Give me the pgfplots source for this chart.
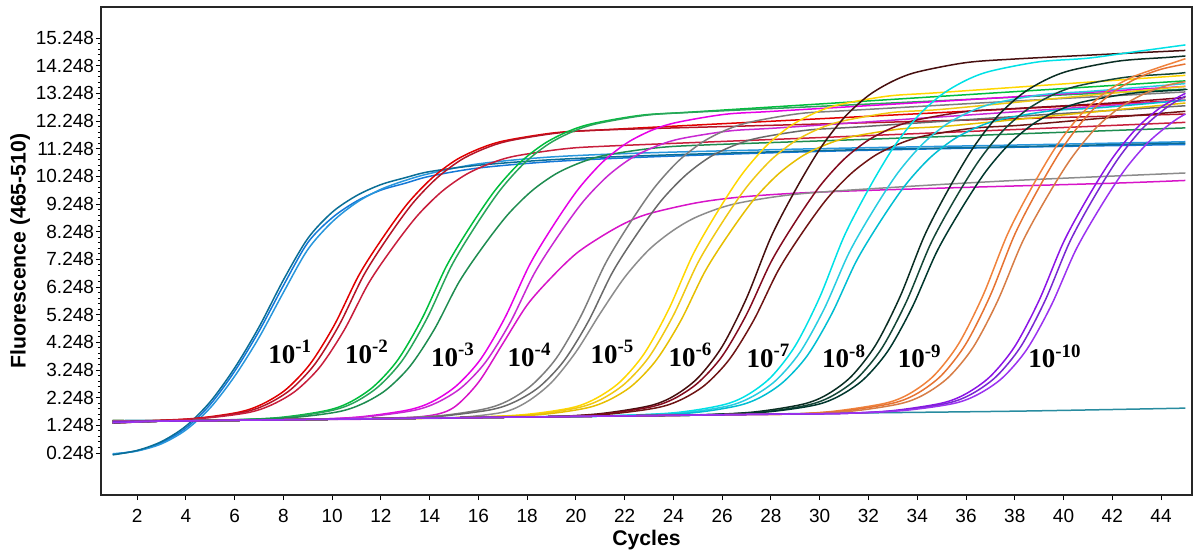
\documentclass[border=0pt]{standalone}
\usepackage{pgfplots}
\pgfplotsset{compat=1.18}
\usepackage{fontspec}
\setmainfont{Liberation Sans}
\newfontfamily\tnr{Liberation Serif}
\definecolor{cb1}{RGB}{20,120,215}
\definecolor{cb2}{RGB}{40,150,220}
\definecolor{cb3}{RGB}{10,110,150}
\definecolor{cr1}{RGB}{225,0,0}
\definecolor{cr2}{RGB}{180,20,40}
\definecolor{cr3}{RGB}{200,30,60}
\definecolor{cg1}{RGB}{0,190,60}
\definecolor{cg2}{RGB}{40,165,90}
\definecolor{cg3}{RGB}{30,140,80}
\definecolor{cm1}{RGB}{230,0,230}
\definecolor{cm2}{RGB}{200,40,210}
\definecolor{cm3}{RGB}{215,20,200}
\definecolor{cgr1}{RGB}{125,125,125}
\definecolor{cgr2}{RGB}{105,105,105}
\definecolor{cgr3}{RGB}{140,140,140}
\definecolor{cy1}{RGB}{255,215,0}
\definecolor{cy2}{RGB}{240,200,20}
\definecolor{cy3}{RGB}{230,190,0}
\definecolor{cma1}{RGB}{70,15,15}
\definecolor{cma2}{RGB}{130,10,30}
\definecolor{cma3}{RGB}{110,20,20}
\definecolor{cc1}{RGB}{0,225,230}
\definecolor{cc2}{RGB}{40,205,225}
\definecolor{cc3}{RGB}{0,190,210}
\definecolor{cd1}{RGB}{10,45,35}
\definecolor{cd2}{RGB}{20,70,55}
\definecolor{cd3}{RGB}{0,55,45}
\definecolor{co1}{RGB}{240,130,60}
\definecolor{co2}{RGB}{230,115,50}
\definecolor{co3}{RGB}{215,125,70}
\definecolor{cp1}{RGB}{140,20,230}
\definecolor{cp2}{RGB}{120,40,210}
\definecolor{cp3}{RGB}{155,50,240}
\definecolor{cneg}{RGB}{40,140,160}
\begin{document}
\begin{tikzpicture}
\useasboundingbox (-50.5bp,-31bp) rectangle (548.5bp,247.5bp);
\begin{axis}[
  at={(0,0)}, anchor=south west,
  scale only axis, width=545.5bp, height=244bp,
  xmin=0.52, xmax=45.27, ymin=-1.27, ymax=16.37,
  xtick={2,4,...,44},
  xticklabels={2,4,6,8,10,12,14,16,18,20,22,24,26,28,30,32,34,36,38,40,42,44},
  ytick={0.248,1.248,2.248,3.248,4.248,5.248,6.248,7.248,8.248,9.248,10.248,11.248,12.248,13.248,14.248,15.248},
  yticklabels={0.248,1.248,2.248,3.248,4.248,5.248,6.248,7.248,8.248,9.248,10.248,11.248,12.248,13.248,14.248,15.248},
  minor y tick num=4,
  tick align=outside, xtick pos=bottom, ytick pos=left,
  major tick length=2.5bp, minor tick length=1.5bp,
  tick style={black, line width=0.5bp},
  axis line style={line width=1bp, black!85},
  /pgf/number format/assume math mode=true,
  ticklabel style={font=\fontsize{9.5bp}{11bp}\selectfont},
  yticklabel style={xshift=2.5bp},
  xticklabel style={yshift=-1bp},
  xlabel={Cycles}, ylabel={Fluorescence (465-510)},
  label style={font=\fontsize{10.6bp}{12bp}\selectfont\bfseries},
  xlabel style={at={(axis description cs:0.5,-0.092)}, anchor=center},
  ylabel style={at={(axis description cs:-0.074,0.5)}, anchor=center},
  every axis plot/.append style={line width=0.75bp, smooth},
  clip=true,
]
% negative control
\addplot[cneg] coordinates {(1,1.42)(10,1.48)(20,1.58)(30,1.68)(38,1.76)(45,1.87)};
% blue
\addplot[cb1] coordinates {(1,0.20)(2,0.33)(3,0.62)(4,1.15)(5,2.0)(6,3.2)(7,4.65)(8,6.3)(9,7.85)(10,8.75)(11,9.35)(12,9.75)(13,10.0)(14,10.25)(16,10.55)(19,10.78)(23,10.95)(30,11.15)(38,11.3)(45,11.4)};
\addplot[cb2] coordinates {(1,0.22)(2,0.32)(3,0.58)(4,1.08)(5,1.88)(6,3.02)(7,4.42)(8,6.05)(9,7.6)(10,8.6)(11,9.3)(12,9.78)(13,10.1)(14,10.35)(16,10.7)(19,10.95)(23,11.1)(30,11.25)(38,11.38)(45,11.5)};
\addplot[cb3] coordinates {(1,0.18)(2,0.34)(3,0.66)(4,1.22)(5,2.1)(6,3.32)(7,4.8)(8,6.5)(9,8.0)(10,8.95)(11,9.55)(12,9.95)(13,10.2)(14,10.42)(16,10.65)(19,10.85)(23,11.0)(30,11.18)(38,11.32)(45,11.45)};
% red
\addplot[cr1] coordinates {(1,1.38)(4.1,1.48)(6.1,1.71)(7.1,2.00)(8.1,2.54)(9.1,3.47)(10.1,4.89)(11.1,6.68)(12.1,8.06)(13.1,9.27)(14.1,10.19)(15.1,10.85)(16.1,11.27)(17.1,11.54)(19.1,11.82)(21.1,11.93)(28,12.24)(36,12.60)(45,13.0)};
\addplot[cr2] coordinates {(1,1.36)(4.3,1.48)(6.3,1.71)(7.3,2.00)(8.3,2.54)(9.3,3.47)(10.3,4.89)(11.3,6.68)(12.3,8.06)(13.3,9.27)(14.3,10.19)(15.3,10.85)(16.3,11.27)(17.3,11.54)(19.3,11.82)(21.3,11.93)(30,12.14)(38,12.33)(45,12.5)};
\addplot[cr3] coordinates {(1,1.33)(4.5,1.49)(6.5,1.70)(7.5,1.98)(8.5,2.49)(9.5,3.36)(10.5,4.70)(11.5,6.39)(12.5,7.69)(13.5,8.83)(14.5,9.70)(15.5,10.32)(16.5,10.72)(17.5,10.98)(19.5,11.24)(21.5,11.35)(30,11.65)(38,11.94)(45,12.2)};
% green
\addplot[cg1] coordinates {(1,1.40)(3,1.40)(5,1.42)(7.7,1.52)(9.7,1.77)(10.7,2.07)(11.7,2.65)(12.7,3.62)(13.7,5.13)(14.7,7.02)(15.7,8.48)(16.7,9.76)(17.7,10.74)(18.7,11.43)(19.7,11.88)(20.7,12.16)(22.7,12.46)(24.7,12.57)(31,12.92)(38,13.31)(45,13.7)};
\addplot[cg2] coordinates {(1,1.35)(3,1.40)(5,1.42)(7.9,1.52)(9.9,1.77)(10.9,2.07)(11.9,2.65)(12.9,3.62)(13.9,5.13)(14.9,7.02)(15.9,8.48)(16.9,9.76)(17.9,10.74)(18.9,11.43)(19.9,11.88)(20.9,12.16)(22.9,12.46)(24.9,12.57)(31,12.82)(38,13.11)(45,13.4)};
\addplot[cg3] coordinates {(1,1.42)(3,1.40)(5,1.42)(8.2,1.52)(10.2,1.73)(11.2,2.01)(12.2,2.52)(13.2,3.39)(14.2,4.73)(15.2,6.42)(16.2,7.72)(17.2,8.86)(18.2,9.73)(19.2,10.35)(20.2,10.75)(21.2,11.01)(23.2,11.27)(25.2,11.38)(32,11.59)(38,11.78)(45,12.0)};
% magenta
\addplot[cm1] coordinates {(1,1.37)(3,1.40)(5,1.42)(7,1.44)(9,1.46)(11.1,1.55)(13.1,1.80)(14.1,2.10)(15.1,2.68)(16.1,3.65)(17.1,5.16)(18.1,7.05)(19.1,8.51)(20.1,9.79)(21.1,10.77)(22.1,11.46)(23.1,11.91)(24.1,12.19)(26.1,12.49)(28.1,12.60)(34,12.91)(40,13.23)(45,13.5)};
\addplot[cm2] coordinates {(1,1.39)(3,1.40)(5,1.42)(7,1.44)(9,1.46)(11.3,1.55)(13.3,1.78)(14.3,2.07)(15.3,2.61)(16.3,3.54)(17.3,4.96)(18.3,6.75)(19.3,8.13)(20.3,9.34)(21.3,10.26)(22.3,10.92)(23.3,11.34)(24.3,11.61)(26.3,11.89)(28.3,12.00)(34,12.34)(40,12.70)(45,13.0)};
\addplot[cm3] coordinates {(1,1.36)(3,1.40)(5,1.42)(7,1.44)(9,1.46)(12,1.48)(14,1.6)(15,1.9)(16,2.8)(17,4.2)(18,5.6)(19,6.6)(20,7.45)(21,8.05)(22,8.55)(23,8.9)(25,9.3)(27,9.52)(30,9.68)(36,9.85)(42,10.0)(45,10.1)};
% gray
\addplot[cgr1] coordinates {(1,1.34)(3,1.40)(5,1.42)(7,1.44)(9,1.46)(11,1.48)(14.2,1.58)(16.2,1.83)(17.2,2.13)(18.2,2.71)(19.2,3.68)(20.2,5.19)(21.2,7.08)(22.2,8.54)(23.2,9.82)(24.2,10.80)(25.2,11.49)(26.2,11.94)(27.2,12.22)(29.2,12.52)(31.2,12.63)(38,12.97)(45,13.3)};
\addplot[cgr2] coordinates {(1,1.41)(3,1.40)(5,1.42)(7,1.44)(9,1.46)(11,1.48)(13,1.50)(14.5,1.58)(16.5,1.81)(17.5,2.10)(18.5,2.64)(19.5,3.57)(20.5,4.99)(21.5,6.78)(22.5,8.16)(23.5,9.37)(24.5,10.29)(25.5,10.95)(26.5,11.37)(27.5,11.64)(29.5,11.92)(31.5,12.03)(38,12.41)(45,12.8)};
\addplot[cgr3] coordinates {(1,1.36)(3,1.40)(5,1.42)(7,1.44)(9,1.46)(11,1.48)(13,1.50)(15,1.52)(17,1.72)(18,2.1)(19,2.8)(20,3.9)(21,5.3)(22,6.6)(23,7.6)(24,8.3)(25,8.8)(26.5,9.25)(29,9.6)(33,9.85)(38,10.1)(45,10.37)};
% yellow
\addplot[cy1] coordinates {(1,1.38)(3,1.40)(5,1.42)(7,1.44)(9,1.46)(11,1.48)(13,1.50)(15,1.52)(17.8,1.63)(19.8,1.88)(20.8,2.21)(21.8,2.81)(22.8,3.84)(23.8,5.43)(24.8,7.42)(25.8,8.96)(26.8,10.31)(27.8,11.34)(28.8,12.07)(29.8,12.54)(30.8,12.84)(32.8,13.15)(34.8,13.27)(40,13.59)(45,13.9)};
\addplot[cy2] coordinates {(1,1.35)(3,1.40)(5,1.42)(7,1.44)(9,1.46)(11,1.48)(13,1.50)(15,1.52)(18,1.62)(20,1.87)(21,2.17)(22,2.75)(23,3.72)(24,5.23)(25,7.12)(26,8.58)(27,9.86)(28,10.84)(29,11.53)(30,11.98)(31,12.26)(33,12.56)(35,12.67)(40,13.09)(45,13.5)};
\addplot[cy3] coordinates {(1,1.42)(3,1.40)(5,1.42)(7,1.44)(9,1.46)(11,1.48)(13,1.50)(15,1.52)(18.3,1.62)(20.3,1.85)(21.3,2.14)(22.3,2.68)(23.3,3.61)(24.3,5.03)(25.3,6.82)(26.3,8.20)(27.3,9.41)(28.3,10.33)(29.3,10.99)(30.3,11.41)(31.3,11.68)(33.3,11.96)(35.3,12.07)(40,12.47)(45,12.9)};
% maroon
\addplot[cma1] coordinates {(1,1.36)(3,1.40)(5,1.42)(7,1.44)(9,1.46)(11,1.48)(13,1.50)(15,1.52)(17,1.54)(19,1.56)(21,1.67)(23,1.95)(24,2.30)(25,2.96)(26,4.10)(27,5.85)(28,8.05)(29,9.75)(30,11.23)(31,12.37)(32,13.17)(33,13.69)(34,14.02)(36,14.36)(38,14.49)(41.5,14.65)(45,14.8)};
\addplot[cma2] coordinates {(1,1.40)(3,1.40)(5,1.42)(7,1.44)(9,1.46)(11,1.48)(13,1.50)(15,1.52)(17,1.54)(19,1.56)(21,1.65)(23,1.90)(24,2.20)(25,2.78)(26,3.75)(27,5.26)(28,7.15)(29,8.61)(30,9.89)(31,10.87)(32,11.56)(33,12.01)(34,12.29)(36,12.59)(38,12.70)(42,12.9)(45,13.1)};
\addplot[cma3] coordinates {(1,1.33)(3,1.40)(5,1.42)(7,1.44)(9,1.46)(11,1.48)(13,1.50)(15,1.52)(17,1.54)(19,1.56)(21.3,1.65)(23.3,1.88)(24.3,2.17)(25.3,2.71)(26.3,3.64)(27.3,5.06)(28.3,6.85)(29.3,8.23)(30.3,9.44)(31.3,10.36)(32.3,11.02)(33.3,11.44)(34.3,11.71)(36.3,11.99)(38.3,12.10)(42,12.38)(45,12.6)};
% cyan
\addplot[cc1] coordinates {(1,1.37)(3,1.40)(5,1.42)(7,1.44)(9,1.46)(11,1.48)(13,1.50)(15,1.52)(17,1.54)(19,1.56)(21,1.58)(24,1.70)(26,1.98)(27,2.33)(28,2.99)(29,4.13)(30,5.88)(31,8.08)(32,9.78)(33,11.26)(34,12.40)(35,13.20)(36,13.72)(37,14.05)(39,14.39)(41,14.52)(43,14.76)(45,15.0)};
\addplot[cc2] coordinates {(1,1.41)(3,1.40)(5,1.42)(7,1.44)(9,1.46)(11,1.48)(13,1.50)(15,1.52)(17,1.54)(19,1.56)(21,1.58)(24.2,1.69)(26.2,1.94)(27.2,2.27)(28.2,2.87)(29.2,3.90)(30.2,5.49)(31.2,7.48)(32.2,9.02)(33.2,10.37)(34.2,11.40)(35.2,12.13)(36.2,12.60)(37.2,12.90)(39.2,13.21)(41.2,13.33)(45,13.6)};
\addplot[cc3] coordinates {(1,1.35)(3,1.40)(5,1.42)(7,1.44)(9,1.46)(11,1.48)(13,1.50)(15,1.52)(17,1.54)(19,1.56)(21,1.58)(24.5,1.68)(26.5,1.93)(27.5,2.23)(28.5,2.81)(29.5,3.78)(30.5,5.29)(31.5,7.18)(32.5,8.64)(33.5,9.92)(34.5,10.90)(35.5,11.59)(36.5,12.04)(37.5,12.32)(39.5,12.62)(41.5,12.73)(45,13.0)};
% dark green
\addplot[cd1] coordinates {(1,1.38)(3,1.40)(5,1.42)(7,1.44)(9,1.46)(11,1.48)(13,1.50)(15,1.52)(17,1.54)(19,1.56)(21,1.58)(23,1.60)(25,1.62)(27.3,1.73)(29.3,2.01)(30.3,2.36)(31.3,3.02)(32.3,4.16)(33.3,5.91)(34.3,8.11)(35.3,9.81)(36.3,11.29)(37.3,12.43)(38.3,13.23)(39.3,13.75)(40.3,14.08)(42.3,14.42)(44.3,14.55)(45,14.6)};
\addplot[cd2] coordinates {(1,1.34)(3,1.40)(5,1.42)(7,1.44)(9,1.46)(11,1.48)(13,1.50)(15,1.52)(17,1.54)(19,1.56)(21,1.58)(23,1.60)(25,1.62)(27.55,1.72)(29.55,1.99)(30.55,2.33)(31.55,2.96)(32.55,4.04)(33.55,5.71)(34.55,7.81)(35.55,9.43)(36.55,10.84)(37.55,11.93)(38.55,12.69)(39.55,13.19)(40.55,13.51)(42.55,13.83)(44.55,13.96)(45,14.0)};
\addplot[cd3] coordinates {(1,1.42)(3,1.40)(5,1.42)(7,1.44)(9,1.46)(11,1.48)(13,1.50)(15,1.52)(17,1.54)(19,1.56)(21,1.58)(23,1.60)(25,1.62)(27.8,1.73)(29.8,1.98)(30.8,2.31)(31.8,2.91)(32.8,3.94)(33.8,5.53)(34.8,7.52)(35.8,9.06)(36.8,10.41)(37.8,11.44)(38.8,12.17)(39.8,12.64)(40.8,12.94)(42.8,13.25)(44.8,13.37)(45,13.4)};
% orange
\addplot[co1] coordinates {(1,1.37)(3,1.40)(5,1.42)(7,1.44)(9,1.46)(11,1.48)(13,1.50)(15,1.52)(17,1.54)(19,1.56)(21,1.58)(23,1.60)(25,1.62)(27,1.64)(29,1.66)(30.7,1.77)(32.7,2.05)(33.7,2.40)(34.7,3.06)(35.7,4.20)(36.7,5.95)(37.7,8.15)(38.7,9.85)(39.7,11.33)(40.7,12.47)(41.7,13.27)(42.7,13.79)(43.7,14.12)(45,14.5)};
\addplot[co2] coordinates {(1,1.41)(3,1.40)(5,1.42)(7,1.44)(9,1.46)(11,1.48)(13,1.50)(15,1.52)(17,1.54)(19,1.56)(21,1.58)(23,1.60)(25,1.62)(27,1.64)(29,1.66)(31,1.77)(33,2.05)(34,2.40)(35,3.06)(36,4.20)(37,5.95)(38,8.15)(39,9.85)(40,11.33)(41,12.47)(42,13.27)(43,13.79)(44,14.12)(45,14.31)};
\addplot[co3] coordinates {(1,1.35)(3,1.40)(5,1.42)(7,1.44)(9,1.46)(11,1.48)(13,1.50)(15,1.52)(17,1.54)(19,1.56)(21,1.58)(23,1.60)(25,1.62)(27,1.64)(29,1.66)(31.3,1.76)(33.3,2.03)(34.3,2.37)(35.3,3.00)(36.3,4.08)(37.3,5.75)(38.3,7.85)(39.3,9.47)(40.3,10.88)(41.3,11.97)(42.3,12.73)(43.3,13.23)(44.3,13.55)(45,13.67)};
% purple
\addplot[cp1] coordinates {(1,1.36)(3,1.40)(5,1.42)(7,1.44)(9,1.46)(11,1.48)(13,1.50)(15,1.52)(17,1.54)(19,1.56)(21,1.58)(23,1.60)(25,1.62)(27,1.64)(29,1.66)(31,1.68)(33,1.78)(35,2.05)(36,2.39)(37,3.02)(38,4.10)(39,5.77)(40,7.87)(41,9.49)(42,10.90)(43,11.99)(44,12.75)(45,13.25)};
\addplot[cp2] coordinates {(1,1.40)(3,1.40)(5,1.42)(7,1.44)(9,1.46)(11,1.48)(13,1.50)(15,1.52)(17,1.54)(19,1.56)(21,1.58)(23,1.60)(25,1.62)(27,1.64)(29,1.66)(31,1.68)(33.25,1.78)(35.25,2.05)(36.25,2.39)(37.25,3.02)(38.25,4.10)(39.25,5.77)(40.25,7.87)(41.25,9.49)(42.25,10.90)(43.25,11.99)(44.25,12.75)(45,13.15)};
\addplot[cp3] coordinates {(1,1.34)(3,1.40)(5,1.42)(7,1.44)(9,1.46)(11,1.48)(13,1.50)(15,1.52)(17,1.54)(19,1.56)(21,1.58)(23,1.60)(25,1.62)(27,1.64)(29,1.66)(31,1.68)(33.5,1.79)(35.5,2.04)(36.5,2.37)(37.5,2.97)(38.5,4.00)(39.5,5.59)(40.5,7.58)(41.5,9.12)(42.5,10.47)(43.5,11.50)(44.5,12.23)(45,12.5)};
% dilution labels
\tikzset{dl/.style={font={\tnr\bfseries\fontsize{13.5bp}{15bp}\selectfont}, inner sep=0pt}}
\node[dl] at (axis cs:8.28,3.9) {10\textsuperscript{-1}};
\node[dl] at (axis cs:11.43,3.9) {10\textsuperscript{-2}};
\node[dl] at (axis cs:14.96,3.8) {10\textsuperscript{-3}};
\node[dl] at (axis cs:18.1,3.8) {10\textsuperscript{-4}};
\node[dl] at (axis cs:21.5,3.9) {10\textsuperscript{-5}};
\node[dl] at (axis cs:24.7,3.8) {10\textsuperscript{-6}};
\node[dl] at (axis cs:27.9,3.75) {10\textsuperscript{-7}};
\node[dl] at (axis cs:31.0,3.75) {10\textsuperscript{-8}};
\node[dl] at (axis cs:34.1,3.75) {10\textsuperscript{-9}};
\node[dl] at (axis cs:39.65,3.75) {10\textsuperscript{-10}};
\end{axis}
\end{tikzpicture}
\end{document}
